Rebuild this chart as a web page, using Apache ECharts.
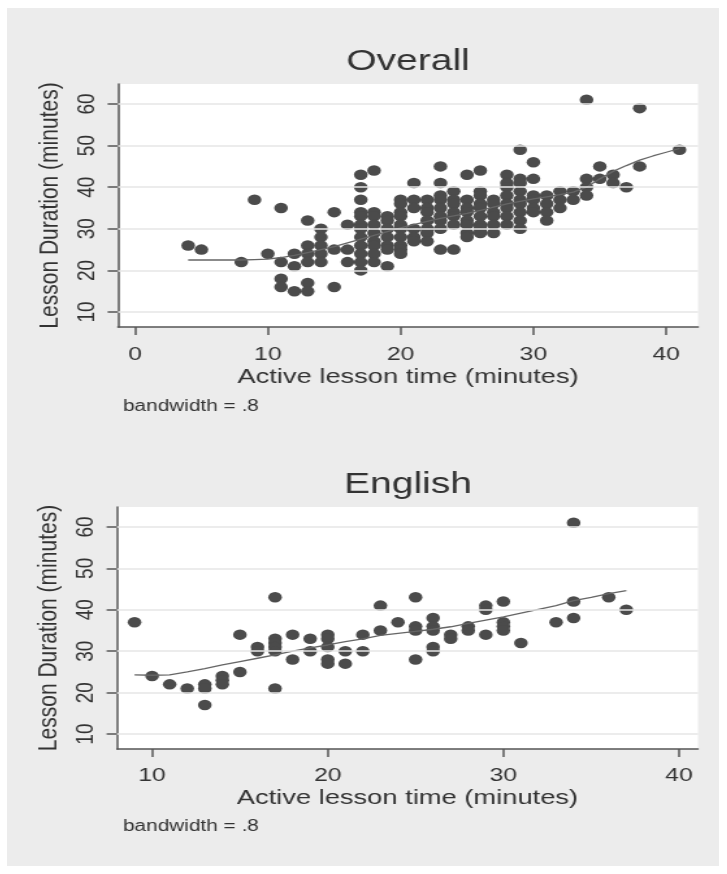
<!DOCTYPE html>
<html>
<head>
<meta charset="utf-8">
<title>Lesson duration vs active lesson time</title>
<script src="https://cdn.jsdelivr.net/npm/echarts@6/dist/echarts.min.js"></script>
<style>
    html, body { margin: 0; padding: 0; background: #fff; overflow: hidden; }
    /* the source graph is stretched sideways, so draw narrow and widen */
    #main { position: absolute; left: 7px; top: 8px; width: 548px; height: 858px;
            transform: scaleX(1.3); transform-origin: 0 0; }
</style>
</head>
<body>
<div id="main"></div>
<script>
// [active lesson time, lesson duration]
var overallPoints = [
    [4,26],[5,25],[8,22],[9,37],[10,24],
    [11,35],[11,22],[11,18],[11,16],
    [12,24],[12,21],[12,15],
    [13,32],[13,26],[13,24],[13,22],[13,17],[13,15],
    [14,30],[14,28],[14,26],[14,24],[14,22],
    [15,34],[15,25],[15,16],
    [16,31],[16,25],[16,22],
    [17,43],[17,40],[17,37],[17,34],[17,33],[17,31],[17,30],[17,28],[17,26],[17,24],[17,22],[17,20],
    [18,44],[18,34],[18,33],[18,31],[18,29],[18,27],[18,26],[18,24],[18,22],
    [19,33],[19,32],[19,30],[19,28],[19,26],[19,25],[19,21],
    [20,37],[20,36],[20,34],[20,33],[20,31],[20,30],[20,28],[20,26],[20,25],[20,24],
    [21,41],[21,37],[21,35],[21,30],[21,28],[21,27],
    [22,37],[22,35],[22,34],[22,32],[22,30],[22,29],[22,27],
    [23,45],[23,41],[23,38],[23,37],[23,35],[23,33],[23,32],[23,30],[23,25],
    [24,39],[24,37],[24,36],[24,34],[24,33],[24,31],[24,25],
    [25,43],[25,37],[25,35],[25,34],[25,32],[25,31],[25,29],[25,28],
    [26,44],[26,39],[26,38],[26,36],[26,35],[26,33],[26,31],[26,30],[26,29],
    [27,37],[27,36],[27,34],[27,33],[27,31],[27,29],
    [28,43],[28,41],[28,40],[28,38],[28,36],[28,35],[28,33],[28,31],
    [29,49],[29,42],[29,41],[29,39],[29,37],[29,36],[29,34],[29,32],[29,30],
    [30,46],[30,42],[30,38],[30,37],[30,35],[30,34],
    [31,38],[31,36],[31,34],[31,32],
    [32,39],[32,37],[32,35],
    [33,39],[33,37],
    [34,61],[34,42],[34,40],[34,38],
    [35,45],[35,42],
    [36,43],[36,41],
    [37,40],[38,59],[38,45],[41,49]
];
var englishPoints = [
    [9,37],[10,24],[11,22],[12,21],[13,22],[13,21],[13,17],
    [14,24],[14,23],[14,22],[15,34],[15,25],[16,31],[16,30],
    [17,43],[17,33],[17,32],[17,31],[17,30],[17,21],
    [18,34],[18,28],[19,33],[19,30],
    [20,34],[20,33],[20,31],[20,28],[20,27],[21,30],[21,27],
    [22,34],[22,30],[23,41],[23,35],[24,37],
    [25,43],[25,36],[25,35],[25,28],
    [26,38],[26,36],[26,35],[26,31],[26,30],
    [27,34],[27,33],[28,36],[28,35],
    [29,41],[29,40],[29,34],
    [30,42],[30,37],[30,36],[30,35],
    [31,32],[33,37],[34,61],[34,42],[34,38],[36,43],[37,40]
];

// lowess curves (bandwidth .8)
var overallFitX = [4,5,6,7,8,9,10,11,12,13,14,15,16,17,18,19,20,21,22,23,24,25,26,27,28,29,30,31,32,33,34,35,36,37,38,39,40,41];
var overallFitY = [22.5,22.5,22.5,22.5,22.5,22.6,22.7,23.1,23.6,24.3,25,25.7,26.6,27.5,28.4,29.3,30.2,31,31.8,32.5,33.1,33.7,34.4,35.2,36,36.6,37.2,37.7,38.2,38.8,40,42,43.8,45.2,46.5,47.5,48.4,49.3];
var englishFitX = [9,10,11,12,13,14,15,16,17,18,19,20,21,22,23,24,25,26,27,28,29,30,31,32,33,34,35,36,37];
var englishFitY = [24.3,24.2,24.3,25,25.8,26.7,27.5,28.3,29.1,30,30.8,31.5,32.3,33,33.8,34.3,34.8,35.3,35.9,36.7,37.5,38.3,39.2,40.1,41,42.2,43,43.9,44.6];

var yTicks = [10, 20, 30, 40, 50, 60];
var overallXTicks = [0, 10, 20, 30, 40];
var englishXTicks = [10, 20, 30, 40];

var LessonChart = {
    font : 'Liberation Sans',
    ink : '#333',
    axisColor : '#555',
    dotColor : '#4b4b4b',

    init : function(){
        this.SetChart();
    },

    pairs : function(xs, ys){
        var out = [];
        for (var i = 0; i < xs.length; i++) {
            out.push([xs[i], ys[i]]);
        }
        return out;
    },

    xAxis : function(idx, min, max, ticks, margin, gap){
        return {
            type: 'value', gridIndex: idx, min: min, max: max,
            name: 'Active lesson time (minutes)',
            nameLocation: 'middle', nameGap: gap,
            nameTextStyle: { fontSize: 21, color: this.ink, fontFamily: this.font },
            axisLine: { show: true, onZero: false, lineStyle: { color: this.axisColor, width: 1.5 } },
            axisTick: { show: true, customValues: ticks, length: 8, lineStyle: { color: this.axisColor, width: 1.5 } },
            axisLabel: { customValues: ticks, margin: margin, fontSize: 19, color: this.ink, fontFamily: this.font },
            splitLine: { show: false }
        };
    },

    yAxis : function(idx){
        return {
            type: 'value', gridIndex: idx, min: 6.4, max: 64.8,
            name: 'Lesson Duration (minutes)',
            nameLocation: 'middle', nameGap: 42,
            nameTextStyle: { fontSize: 21, color: this.ink, fontFamily: this.font },
            axisLine: { show: true, onZero: false, lineStyle: { color: this.axisColor, width: 1.5 } },
            axisTick: { show: true, customValues: yTicks, length: 8, lineStyle: { color: this.axisColor, width: 1.5 } },
            axisLabel: { customValues: yTicks, rotate: 90, margin: 14, fontSize: 19, color: this.ink, fontFamily: this.font },
            splitLine: { show: false }
        };
    },

    gridLines : function(idx){
        return {
            type: 'line', xAxisIndex: idx, yAxisIndex: idx, data: [], z: 1,
            markLine: {
                silent: true, symbol: 'none', animation: false,
                label: { show: false },
                lineStyle: { color: '#e6e6e6', width: 1.5, type: 'solid' },
                data: yTicks.map(function(v){ return { yAxis: v }; })
            }
        };
    },

    SetChart : function(){
        var dom = document.getElementById('main');
        var myChart = echarts.init(dom, null, { renderer: 'canvas' });
        var self = this;

        var text = function(str, x, y, size, align){
            return {
                type: 'text', x: x, y: y, silent: true,
                style: { text: str, fontSize: size, fill: self.ink, fontFamily: self.font,
                         align: align, verticalAlign: 'middle' }
            };
        };

        var option = {
            animation: false,
            backgroundColor: '#ececec',
            grid: [
                { left: 85.4, top: 76, width: 446.2, height: 243, show: true, backgroundColor: '#fff', borderWidth: 0 },
                { left: 84.6, top: 499, width: 446.9, height: 242, show: true, backgroundColor: '#fff', borderWidth: 0 }
            ],
            xAxis: [
                this.xAxis(0, -1.28, 42.4, overallXTicks, 18, 40),
                this.xAxis(1, 8.0, 41.08, englishXTicks, 17, 39)
            ],
            yAxis: [ this.yAxis(0), this.yAxis(1) ],
            graphic: [
                text('Overall', 308.5, 54, 30, 'center'),
                text('English', 308.5, 477, 30, 'center'),
                text('bandwidth = .8', 89.2, 399, 16, 'left'),
                text('bandwidth = .8', 89.2, 819, 16, 'left')
            ],
            series: [
                this.gridLines(0),
                this.gridLines(1),
                {
                    name: 'Overall', type: 'scatter', xAxisIndex: 0, yAxisIndex: 0, z: 2,
                    symbolSize: 10.5, itemStyle: { color: this.dotColor, opacity: 1 },
                    data: overallPoints
                },
                {
                    name: 'English', type: 'scatter', xAxisIndex: 1, yAxisIndex: 1, z: 2,
                    symbolSize: 10.5, itemStyle: { color: this.dotColor, opacity: 1 },
                    data: englishPoints
                },
                {
                    type: 'line', xAxisIndex: 0, yAxisIndex: 0, z: 3, showSymbol: false,
                    lineStyle: { color: '#666', width: 1.3 },
                    data: this.pairs(overallFitX, overallFitY)
                },
                {
                    type: 'line', xAxisIndex: 1, yAxisIndex: 1, z: 3, showSymbol: false,
                    lineStyle: { color: '#666', width: 1.3 },
                    data: this.pairs(englishFitX, englishFitY)
                }
            ]
        };

        if (option && typeof option === 'object') {
            myChart.setOption(option, true);
        }
    }
};
LessonChart.init();
</script>
</body>
</html>
